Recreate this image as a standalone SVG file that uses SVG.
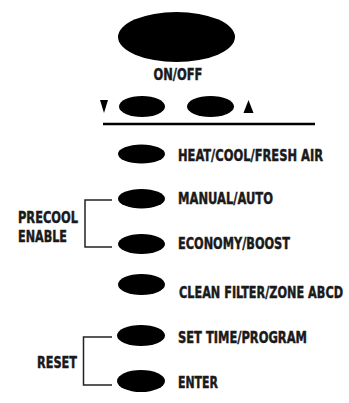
<svg xmlns="http://www.w3.org/2000/svg" width="349" height="403" viewBox="0 0 349 403">
<style>
text{font-family:"Liberation Sans Narrow","DejaVu Sans Condensed","Liberation Sans",sans-serif;font-weight:bold;font-size:16.5px;fill:#1a1a1a;stroke:#1a1a1a;stroke-width:0.45}
.btn{fill:#000}
.br{fill:none;stroke:#222;stroke-width:1.5}
</style>
<rect width="349" height="403" fill="#fff"/>
<g id="onoff">
<ellipse class="btn" cx="176.5" cy="37" rx="58.5" ry="25"/>
<text transform="translate(153.5,80) scale(0.75,1)" textLength="65.3" lengthAdjust="spacingAndGlyphs">ON/OFF</text>
</g>
<g id="down">
<polygon points="100,100 108,100 104,113" fill="#000"/>
<ellipse class="btn" cx="142" cy="106.5" rx="23" ry="10.5"/>
</g>
<g id="up">
<ellipse class="btn" cx="210.5" cy="106.5" rx="23.5" ry="10.5"/>
<polygon points="248.5,100 243.5,113 253.5,113" fill="#000"/>
</g>
<g id="divider"><line x1="103" y1="124" x2="315" y2="124" stroke="#000" stroke-width="2.5"/></g>
<g id="heat">
<ellipse class="btn" cx="141.5" cy="154" rx="23.5" ry="9.5"/>
<text transform="translate(178,160.5) scale(0.75,1)" textLength="193.3" lengthAdjust="spacingAndGlyphs">HEAT/COOL/FRESH AIR</text>
</g>
<g id="manual">
<ellipse class="btn" cx="141.5" cy="198.7" rx="23.5" ry="9.7"/>
<text transform="translate(178,204) scale(0.75,1)" textLength="126.7" lengthAdjust="spacingAndGlyphs">MANUAL/AUTO</text>
</g>
<g id="economy">
<ellipse class="btn" cx="141.5" cy="244" rx="23.5" ry="10"/>
<text transform="translate(178,249) scale(0.75,1)" textLength="149.3" lengthAdjust="spacingAndGlyphs">ECONOMY/BOOST</text>
</g>
<g id="clean">
<ellipse class="btn" cx="141.5" cy="284.5" rx="23.5" ry="10.5"/>
<text transform="translate(179,297.5) scale(0.75,1)" textLength="218.7" lengthAdjust="spacingAndGlyphs">CLEAN FILTER/ZONE ABCD</text>
</g>
<g id="settime">
<ellipse class="btn" cx="141" cy="335.5" rx="24" ry="10.5"/>
<text transform="translate(178,343) scale(0.75,1)" textLength="172" lengthAdjust="spacingAndGlyphs">SET TIME/PROGRAM</text>
</g>
<g id="enter">
<ellipse class="btn" cx="141" cy="381" rx="24" ry="11"/>
<text transform="translate(178,387.5) scale(0.75,1)" textLength="53.3" lengthAdjust="spacingAndGlyphs">ENTER</text>
</g>
<g id="precool">
<text transform="translate(18,223.3) scale(0.75,1)" textLength="80" lengthAdjust="spacingAndGlyphs">PRECOOL</text>
<text transform="translate(18,242.3) scale(0.75,1)" textLength="65.3" lengthAdjust="spacingAndGlyphs">ENABLE</text>
</g>
<g id="reset">
<text transform="translate(37,368.3) scale(0.75,1)" textLength="53.3" lengthAdjust="spacingAndGlyphs">RESET</text>
</g>
<g id="connectors">
<polyline class="br" points="112,200 85,200 85,247 112,247"/>
<polyline class="br" points="112,337 83.5,337 83.5,385 112,385"/>
</g>
</svg>
